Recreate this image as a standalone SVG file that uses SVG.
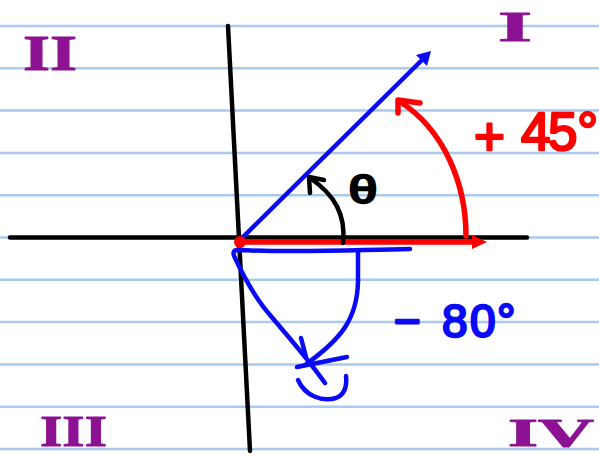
<svg xmlns="http://www.w3.org/2000/svg" width="599" height="456" viewBox="0 0 599 456">
<defs>
<style>
.rule{stroke:#a9c9ef;stroke-width:2.5}
.ink{fill:none;stroke-linecap:round;stroke-linejoin:round}
.blk{stroke:#000;stroke-width:4.5}
.blu{stroke:#0a0af5;stroke-width:4.5}
.red{stroke:#ff0000;stroke-width:5.5}
.roman{font-family:"Liberation Serif",serif;font-weight:bold;fill:#8c1293;stroke:#8c1293;stroke-width:1;stroke-linejoin:round}
.lbl{font-family:"Liberation Sans",Arial,sans-serif;stroke-width:2.4;stroke-linejoin:round}
</style>
</defs>
<rect width="599" height="456" fill="#ffffff"/>
<g id="ruled-lines">
<line class="rule" x1="0" y1="26" x2="599" y2="26"/>
<line class="rule" x1="0" y1="68.3" x2="599" y2="68.3"/>
<line class="rule" x1="0" y1="110.6" x2="599" y2="110.6"/>
<line class="rule" x1="0" y1="152.9" x2="599" y2="152.9"/>
<line class="rule" x1="0" y1="195.2" x2="599" y2="195.2"/>
<line class="rule" x1="0" y1="237.5" x2="599" y2="237.5"/>
<line class="rule" x1="0" y1="279.8" x2="599" y2="279.8"/>
<line class="rule" x1="0" y1="322.1" x2="599" y2="322.1"/>
<line class="rule" x1="0" y1="364.4" x2="599" y2="364.4"/>
<line class="rule" x1="0" y1="406.7" x2="599" y2="406.7"/>
<line class="rule" x1="0" y1="449" x2="599" y2="449"/>
</g>
<g id="axes">
<line class="ink blk" x1="10" y1="237.5" x2="527" y2="237.5" stroke-width="5"/>
<line class="ink blk" x1="228" y1="26" x2="250" y2="451"/>
</g>
<g id="connectors">
<g id="positive-angle">
<path class="ink red" d="M466,236 C466,185 445,130 399,101"/>
<polyline class="ink red" points="398,113 398,100 420,103"/>
<line class="ink red" x1="240" y1="242" x2="474" y2="242" stroke-width="6"/>
<polygon points="487,242 472,235 472,249" fill="#ff0000"/>
</g>
<g id="ray">
<line class="ink blu" x1="240" y1="240" x2="423" y2="59"/>
<polygon points="431,51 416,55 427,66" fill="#0a0af5"/>
</g>
<g id="theta-arc">
<path class="ink blk" d="M343,243 C346,215 335,195 310,178"/>
<polyline class="ink blk" points="310,193 309,177 324,180"/>
</g>
<g id="negative-angle">
<path class="ink blu" d="M410,249 C350,250 300,253 238,250 Q231,250 235,258 C243,275 255,298 270,315 C285,333 305,355 325,383"/>
<path class="ink blu" d="M358,251 L358,282 C357,320 340,340 305,365"/>
<line class="ink blu" x1="297" y1="367" x2="347" y2="357"/>
<line class="ink blu" x1="301" y1="338" x2="306" y2="357"/>
<path class="ink blu" d="M298,380 C305,396 322,402 336,398 C346,394 347,385 346,376"/>
</g>
<circle cx="240" cy="242" r="6" fill="#ff0000"/>
</g>
<g id="labels">
<text class="roman" x="23" y="70" font-size="50" textLength="54" lengthAdjust="spacingAndGlyphs">II</text>
<text class="roman" x="498" y="41" font-size="42" textLength="34" lengthAdjust="spacingAndGlyphs">I</text>
<text class="roman" x="40" y="446" font-size="44" textLength="67" lengthAdjust="spacingAndGlyphs">III</text>
<text class="roman" x="508" y="446" font-size="40" textLength="86" lengthAdjust="spacingAndGlyphs">IV</text>
<text class="lbl" fill="#ff0000" stroke="#ff0000" font-size="53" x="474 521 548 577" y="155 150 150 150">+45°</text>
<text class="lbl" fill="#0a0af5" stroke="#0a0af5" font-size="46" x="394 442 470 497" y="337">−80°</text>
<text class="lbl" fill="#000" stroke="#000" stroke-width="2" font-size="38" text-anchor="middle" transform="translate(363,203) scale(1.35,1)" x="0" y="0">θ</text>
</g>
</svg>
